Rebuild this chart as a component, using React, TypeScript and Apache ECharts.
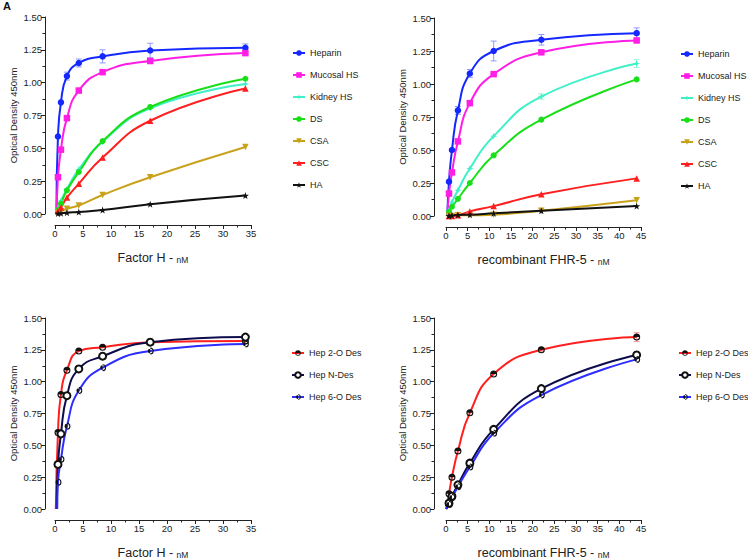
import React, { useEffect, useRef } from "react";
import * as echarts from "echarts";

// ---------- data ----------
const topNames = ["Heparin", "Mucosal HS", "Kidney HS", "DS", "CSA", "CSC", "HA"];
const bottomNames = ["Hep 2-O Des", "Hep N-Des", "Hep 6-O Des"];

// Factor H concentrations (nM)
const fhConc = [0.53, 1.06, 2.13, 4.25, 8.5, 17, 34];
// recombinant FHR-5 concentrations (nM)
const fhr5Conc = [0.69, 1.375, 2.75, 5.5, 11, 22, 44];

// Top-left: Factor H
const fhHeparin = [0.59, 0.85, 1.05, 1.15, 1.2, 1.245, 1.265];
const fhMucosal = [0.28, 0.49, 0.73, 0.94, 1.08, 1.165, 1.225];
const fhKidney = [0.04, 0.1, 0.19, 0.34, 0.55, 0.805, 0.99];
const fhDS = [0.03, 0.08, 0.18, 0.32, 0.555, 0.815, 1.03];
const fhCSA = [0.01, 0.02, 0.04, 0.065, 0.145, 0.28, 0.51];
const fhCSC = [0.02, 0.05, 0.125, 0.23, 0.43, 0.71, 0.955];
const fhHA = [0.003, 0.005, 0.01, 0.015, 0.03, 0.075, 0.14];
const fhHeparinErr = [0, 0, 0.03, 0.03, 0.05, 0.055, 0.03];
// x where each fitted curve leaves the baseline
const fhCurveStart = [0.25, 0.3, 0.3, 0.3, 0.3, 0.3, 0.3];

// Top-right: recombinant FHR-5
const r5Heparin = [0.26, 0.5, 0.8, 1.08, 1.25, 1.335, 1.385];
const r5Mucosal = [0.17, 0.33, 0.565, 0.855, 1.075, 1.24, 1.33];
const r5Kidney = [0.04, 0.105, 0.195, 0.36, 0.605, 0.905, 1.155];
const r5DS = [0.03, 0.07, 0.13, 0.25, 0.46, 0.73, 1.035];
const r5CSA = [0.0, 0.0, 0.005, 0.005, 0.01, 0.04, 0.12];
const r5CSC = [0.0, 0.0, 0.005, 0.035, 0.075, 0.165, 0.285];
const r5HA = [0.0, 0.005, 0.008, 0.01, 0.02, 0.04, 0.075];
const r5HeparinErr = [0, 0, 0.03, 0.03, 0.075, 0.04, 0.04];
const r5KidneyErr = [0, 0, 0, 0, 0, 0.02, 0.03];
const r5CurveStart = [0.3, 0.3, 0.3, 0.3, 0.3, 0.3, 0.3];

// Bottom-left: Factor H, desulfated heparins
const fh2ODes = [0.6, 0.9, 1.09, 1.24, 1.27, 1.31, 1.32];
const fhNDes = [0.35, 0.59, 0.89, 1.1, 1.2, 1.31, 1.35];
const fh6ODes = [0.21, 0.39, 0.65, 0.93, 1.11, 1.24, 1.295];
const fhDesCurveStart = [0.15, 0.3, 0.4];

// Bottom-right: FHR-5, desulfated heparins
const r52ODes = [0.12, 0.25, 0.455, 0.755, 1.06, 1.25, 1.35];
const r5NDes = [0.045, 0.1, 0.19, 0.36, 0.625, 0.945, 1.21];
const r56ODes = [0.035, 0.09, 0.175, 0.33, 0.595, 0.895, 1.175];
const r52ODesErr = [0, 0, 0, 0, 0, 0.015, 0.035];
const r5DesCurveStart = [0.05, 0.05, 0.05];

// ---------- styles ----------
const FONT = "'Liberation Sans', Arial, sans-serif";
const TXT = "#222";

const STAR5 =
  "path://M0,-10 L2.35,-3.24 L9.51,-3.09 L3.8,1.24 L5.88,8.09 L0,4 L-5.88,8.09 L-3.8,1.24 L-9.51,-3.09 L-2.35,-3.24 Z";
const STAR4 = "path://M0,-10 L2.6,-2.6 L10,0 L2.6,2.6 L0,10 L-2.6,2.6 L-10,0 L-2.6,-2.6 Z";
const RING =
  "M0,-10 A10,10 0 1,1 0,10 A10,10 0 1,1 0,-10 Z M0,-7 A7,7 0 1,0 0,7 A7,7 0 1,0 0,-7 Z ";
const HALF_TOP = "path://" + RING + "M-10,0 A10,10 0 0,1 10,0 Z";
const HALF_LEFT = "path://" + RING + "M0,-10 A10,10 0 0,0 0,10 Z";

const topStyles = [
  { color: "#1428ff", symbol: "circle", size: 6.5 },
  { color: "#ff1ee6", symbol: "rect", size: 6.5 },
  { color: "#3ff0c8", symbol: STAR4, size: 7 },
  { color: "#19df19", symbol: "circle", size: 6 },
  { color: "#c9a21c", symbol: "triangle", size: 6.5, rotate: 180 },
  { color: "#ff1f1f", symbol: "triangle", size: 6.5 },
  { color: "#111111", symbol: STAR5, size: 7 },
];
const bottomStyles = [
  { color: "#ff1f1f", symbol: HALF_TOP, mark: "#111", size: 7 },
  { color: "#0d0d4d", symbol: "emptyCircle", mark: "#111", size: 7 },
  { color: "#2d2dff", symbol: HALF_LEFT, mark: "#111", size: 7 },
];

function lineSeries(
  name: string,
  xs: number[],
  ys: number[],
  start: number,
  idx: number,
  st: any
) {
  const data: any[] = [{ value: [start, 0], symbol: "none" }];
  xs.forEach((x, i) => data.push([x, ys[i]]));
  return {
    type: "line",
    name,
    xAxisIndex: idx,
    yAxisIndex: idx,
    data,
    smooth: 0.5,
    symbol: st.symbol,
    symbolSize: st.size,
    symbolRotate: st.rotate || 0,
    showSymbol: true,
    lineStyle: { color: st.color, width: 2 },
    itemStyle: { color: st.mark || st.color, borderWidth: st.symbol === "emptyCircle" ? 1.5 : 0 },
    emphasis: { disabled: true },
    z: 3,
  };
}

function errSeries(xs: number[], ys: number[], errs: number[], idx: number, color: string) {
  const data: number[][] = [];
  xs.forEach((x, i) => {
    if (errs[i] > 0) data.push([x, ys[i], errs[i]]);
  });
  return {
    type: "custom",
    name: "err" + idx + color,
    xAxisIndex: idx,
    yAxisIndex: idx,
    data,
    z: 2,
    renderItem: (params: any, api: any) => {
      const x = api.value(0);
      const y = api.value(1);
      const e = api.value(2);
      const top = api.coord([x, y + e]);
      const bot = api.coord([x, y - e]);
      const style = { stroke: color, lineWidth: 1 };
      return {
        type: "group",
        children: [
          { type: "line", shape: { x1: top[0], y1: top[1], x2: bot[0], y2: bot[1] }, style },
          { type: "line", shape: { x1: top[0] - 3, y1: top[1], x2: top[0] + 3, y2: top[1] }, style },
          { type: "line", shape: { x1: bot[0] - 3, y1: bot[1], x2: bot[0] + 3, y2: bot[1] }, style },
        ],
      };
    },
  };
}

function xAxis(idx: number, max: number, title: string) {
  return {
    type: "value",
    gridIndex: idx,
    min: 0,
    max,
    interval: 5,
    offset: 11,
    axisLine: { show: true, onZero: false, lineStyle: { color: TXT, width: 1 } },
    axisTick: { show: true, length: 4, lineStyle: { color: TXT } },
    minorTick: { show: true, splitNumber: 2, length: 2.5, lineStyle: { color: TXT } },
    splitLine: { show: false },
    axisLabel: { fontSize: 9.5, color: TXT, fontFamily: FONT, margin: 3 },
    name: `{a|${title} - }{b|nM}`,
    nameLocation: "middle",
    nameGap: 24,
    nameTextStyle: {
      rich: {
        a: { fontSize: 12.5, color: TXT, fontFamily: FONT, verticalAlign: "bottom", lineHeight: 15 },
        b: { fontSize: 8.5, color: TXT, fontFamily: FONT, verticalAlign: "bottom", lineHeight: 15 },
      },
    },
  };
}

function yAxis(idx: number, offset: number) {
  return {
    type: "value",
    gridIndex: idx,
    min: 0,
    max: 1.5,
    interval: 0.25,
    offset,
    axisLine: { show: true, onZero: false, lineStyle: { color: TXT, width: 1 } },
    axisTick: { show: true, length: 4, lineStyle: { color: TXT } },
    minorTick: { show: true, splitNumber: 2, length: 2.5, lineStyle: { color: TXT } },
    splitLine: { show: false },
    axisLabel: {
      fontSize: 9.5,
      color: TXT,
      fontFamily: FONT,
      margin: 3,
      formatter: (v: number) => v.toFixed(2),
    },
    name: "Optical Density 450nm",
    nameLocation: "middle",
    nameGap: 27,
    nameTextStyle: { fontSize: 9.5, color: TXT, fontFamily: FONT },
  };
}

function legend(left: number, top: number, names: string[]) {
  return {
    left,
    top,
    orient: "vertical",
    data: names,
    itemWidth: 12,
    itemHeight: 7,
    itemGap: 10,
    selectedMode: false,
    textStyle: { fontSize: 9, color: TXT, fontFamily: FONT, lineHeight: 12 },
  };
}

export default function App() {
  const ref = useRef<HTMLDivElement>(null);
  useEffect(() => {
    if (!ref.current) return;
    const chart = echarts.init(ref.current, undefined, { renderer: "svg" });

    const topFH = [fhHeparin, fhMucosal, fhKidney, fhDS, fhCSA, fhCSC, fhHA];
    const topR5 = [r5Heparin, r5Mucosal, r5Kidney, r5DS, r5CSA, r5CSC, r5HA];
    const botFH = [fh2ODes, fhNDes, fh6ODes];
    const botR5 = [r52ODes, r5NDes, r56ODes];

    const series: any[] = [];
    topNames.forEach((n, i) => series.push(lineSeries(n, fhConc, topFH[i], fhCurveStart[i], 0, topStyles[i])));
    topNames.forEach((n, i) => series.push(lineSeries(n, fhr5Conc, topR5[i], r5CurveStart[i], 1, topStyles[i])));
    bottomNames.forEach((n, i) => series.push(lineSeries(n, fhConc, botFH[i], fhDesCurveStart[i], 2, bottomStyles[i])));
    bottomNames.forEach((n, i) => series.push(lineSeries(n, fhr5Conc, botR5[i], r5DesCurveStart[i], 3, bottomStyles[i])));
    series.push(errSeries(fhConc, fhHeparin, fhHeparinErr, 0, "#8f9bff"));
    series.push(errSeries(fhr5Conc, r5Heparin, r5HeparinErr, 1, "#8f9bff"));
    series.push(errSeries(fhr5Conc, r5Kidney, r5KidneyErr, 1, "#9ff5dc"));
    series.push(errSeries(fhr5Conc, r52ODes, r52ODesErr, 3, "#ff9a9a"));

    chart.setOption({
      animation: false,
      backgroundColor: "#ffffff",
      textStyle: { fontFamily: FONT },
      grid: [
        { left: 55, top: 17, width: 196, height: 197 },
        { left: 446, top: 18, width: 195, height: 198 },
        { left: 55, top: 318, width: 196, height: 197 },
        { left: 446, top: 318, width: 195, height: 197 },
      ],
      xAxis: [
        xAxis(0, 35, "Factor H"),
        xAxis(1, 45, "recombinant FHR-5"),
        xAxis(2, 35, "Factor H"),
        xAxis(3, 45, "recombinant FHR-5"),
      ],
      yAxis: [yAxis(0, 10), yAxis(1, 12), yAxis(2, 10), yAxis(3, 12)],
      legend: [
        legend(287, 42, topNames),
        legend(675, 43, topNames),
        legend(286, 342, bottomNames),
        legend(673, 342, bottomNames),
      ],
      graphic: [
        {
          type: "text",
          left: 3,
          top: 0,
          style: { text: "A", fontSize: 11, fontWeight: "bold", fill: "#111", fontFamily: FONT },
        },
      ],
      series,
    });
    return () => chart.dispose();
  }, []);
  return (
    <div
      ref={ref}
      style={{ position: "fixed", left: 0, top: 0, width: 748, height: 560, background: "#fff" }}
    />
  );
}
